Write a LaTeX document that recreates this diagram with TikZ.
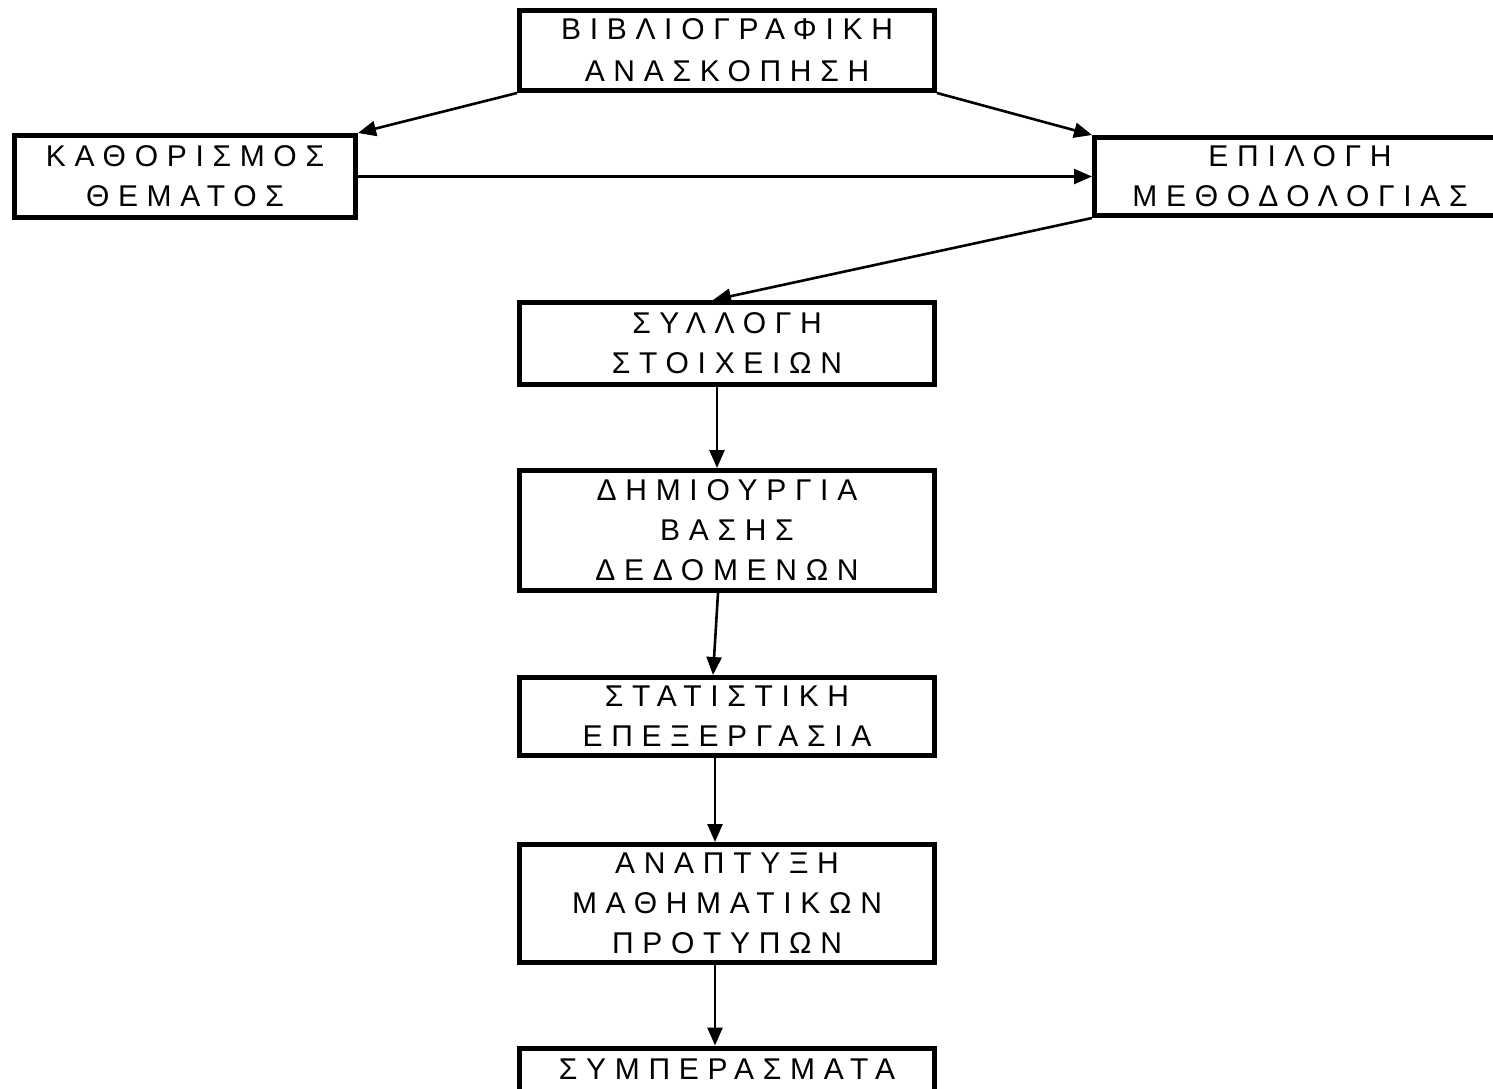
\documentclass[tikz,border=0pt]{standalone}
\usepackage{fontspec}
\setmainfont{Liberation Sans}
\newfontfamily\stagefont[LetterSpace=29]{Liberation Sans}
\usetikzlibrary{arrows.meta}

\begin{document}
\begin{tikzpicture}[x=0.5pt, y=-0.5pt,
        stage/.style={draw=black, line width=2.5pt, inner sep=0pt, align=center,
            minimum width=207.5pt, font=\stagefont\fontsize{15}{20}\selectfont},
        flow/.style={black, line width=1.3pt, -{Triangle[length=9pt, width=7.5pt]}}]
    \useasboundingbox (0,0) rectangle (1493,1088);

    \node[stage, minimum height=40pt] (biblio) at (727,50.5) {ΒΙΒΛΙΟΓΡΑΦΙΚΗ\\[1pt]ΑΝΑΣΚΟΠΗΣΗ};
    \node[stage, minimum width=170.5pt, minimum height=41pt] (thema) at (185,176.5) {ΚΑΘΟΡΙΣΜΟΣ\\ΘΕΜΑΤΟΣ};
    \node[stage, minimum width=205.5pt, minimum height=39pt] (methodos) at (1300,176.5) {ΕΠΙΛΟΓΗ\\ΜΕΘΟΔΟΛΟΓΙΑΣ};
    \node[stage, minimum height=41pt] (syllogi) at (727,343.5) {ΣΥΛΛΟΓΗ\\ΣΤΟΙΧΕΙΩΝ};
    \node[stage, minimum height=60pt] (vasi) at (727,530.5) {ΔΗΜΙΟΥΡΓΙΑ\\ΒΑΣΗΣ\\ΔΕΔΟΜΕΝΩΝ};
    \node[stage, minimum height=39pt] (statistiki) at (727,716.5) {ΣΤΑΤΙΣΤΙΚΗ\\ΕΠΕΞΕΡΓΑΣΙΑ};
    \node[stage, minimum height=59pt] (protypa) at (727,903.5) {ΑΝΑΠΤΥΞΗ\\ΜΑΘΗΜΑΤΙΚΩΝ\\ΠΡΟΤΥΠΩΝ};
    \node[stage, minimum height=41pt] (symperasmata) at (727,1089) {ΣΥΜΠΕΡΑΣΜΑΤΑ\\\mbox{}};

    \draw[flow] (biblio.south west) -- (thema.north east);
    \draw[flow] (biblio.south east) -- (methodos.north west);
    \draw[flow] ([xshift=-1pt]thema.east) -- (methodos.west);
    \draw[flow] (methodos.south west) -- ([xshift=-7pt]syllogi.north);
    \draw[flow] ([xshift=-5pt]syllogi.south) -- ([xshift=-5pt]vasi.north);
    \draw[flow] ([xshift=-4.5pt]vasi.south) -- ([xshift=-7pt]statistiki.north);
    \draw[flow] ([xshift=-6pt]statistiki.south) -- ([xshift=-6pt]protypa.north);
    \draw[flow] ([xshift=-6pt]protypa.south) -- ([xshift=-6pt]symperasmata.north);
\end{tikzpicture}
\end{document}
